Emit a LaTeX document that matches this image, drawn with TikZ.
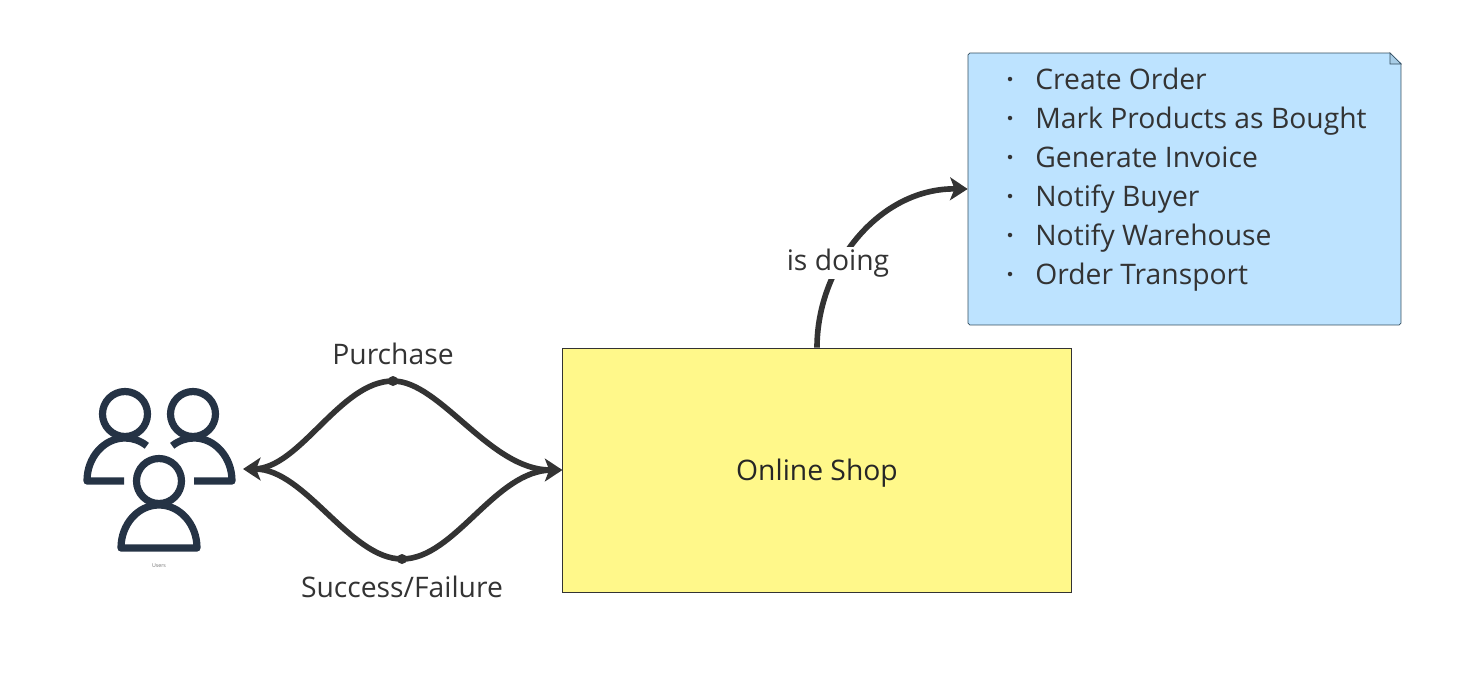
\documentclass[tikz,border=0pt]{standalone}
\usepackage{fontspec}
\setmainfont{Open Sans}
\usetikzlibrary{arrows.meta}
\definecolor{inkgray}{HTML}{333333}
\definecolor{iconblue}{HTML}{253345}
\definecolor{shopyellow}{HTML}{FFF88A}
\definecolor{noteblue}{HTML}{BDE3FF}
\definecolor{noteline}{HTML}{344E60}
\tikzset{
 flow/.style={line width=3.2pt,draw=inkgray,-{Stealth[length=10pt,width=13pt,inset=2.5pt]}},
 plainflow/.style={line width=3.2pt,draw=inkgray,shorten <=6pt},
 joint/.style={circle,fill=inkgray,inner sep=0pt,minimum size=0.2cm},
 caption/.style={text=inkgray,font=\fontsize{16.1}{20}\selectfont,inner sep=1pt},
 bulletdot/.style={circle,fill=inkgray,inner sep=0pt,minimum size=0.09cm},
 person/.style={line width=4.1pt,draw=iconblue,line join=round}
}
\begin{document}
\begin{tikzpicture}[x=0.02cm,y=-0.02cm]
 \useasboundingbox (0,0) rectangle (1461,684);

 \node[draw=black!80,fill=shopyellow,minimum width=10.17cm,minimum height=4.88cm,inner sep=0pt,text=black!85,text depth=0pt,font=\fontsize{16.1}{20}\selectfont] (shop) at (817,470){Online Shop};
 \node[draw=noteline,fill=noteblue,rounded corners=1pt,minimum width=8.66cm,minimum height=5.44cm,inner sep=0pt] (note) at (1184.5,189){};
 \node[minimum width=3.2cm,minimum height=3.2cm,inner sep=0pt,outer sep=0pt] (users) at (163,469){};

 \fill[white] (1389.5,52) -- (1403,52) -- (1403,64.5) -- cycle;
 \draw[draw=noteline,fill=noteblue!85!noteline] (1390,53) -- (1401,64) -- (1390,64) -- cycle;

 \foreach \t [count=\i] in {Create Order,Mark Products as Bought,Generate Invoice,Notify Buyer,Notify Warehouse,Order Transport}{
  \node[bulletdot] (dot\i) at (1010,40+39*\i){};
  \node[caption,anchor=base west,inner sep=0pt] (item\i) at (1035,50.8+38.9*\i){\t};
 }

 \draw[person] (125,414) circle[radius=22.5];
 \draw[person] (193,414) circle[radius=22.5];
 \draw[person] (159,481) circle[radius=22.5];
 \draw[person] (124,481) -- (87,481) arc[start angle=180,end angle=305,x radius=38,y radius=43];
 \draw[person] (194,481) -- (232,481) arc[start angle=0,end angle=-125,x radius=38,y radius=43];
 \draw[person] (121,548) arc[start angle=180,end angle=360,x radius=38,y radius=43] -- cycle;
 \node[text=black!55,font=\fontsize{3}{4}\selectfont,inner sep=0pt] (userslabel) at (159,566){Users};

 \node[joint] (purchasedot) at (393,381){};
 \node[joint] (resultdot) at (402,559){};
 \node[caption] (purchase) at (393,354){Purchase};
 \node[caption] (result) at (402,587){Success/Failure};

 \draw[plainflow] (users.east) .. controls (300,469) and (340,381) .. (purchasedot.center);
 \draw[flow] (purchasedot.center) .. controls (440,381) and (490,470) .. (shop.west);
 \draw[plainflow] (shop.west) .. controls (495,470) and (455,559) .. (resultdot.center);
 \draw[flow] (resultdot.center) .. controls (350,559) and (305,469) .. (users.east);

 \draw[flow] (shop.north) .. controls (817,265) and (880,188) .. (note.west);
 \node[caption,fill=white] (doing) at (838,263){is doing};
\end{tikzpicture}
\end{document}
